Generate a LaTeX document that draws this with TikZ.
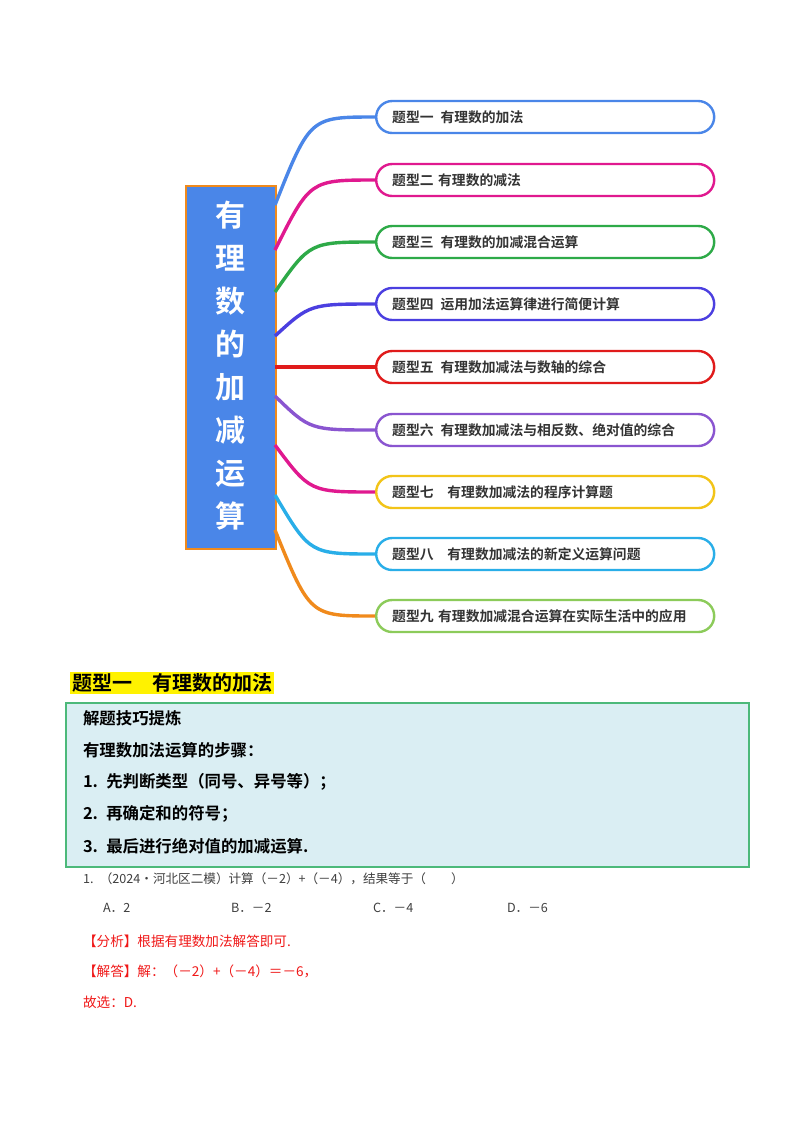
\documentclass[tikz,border=0pt]{standalone}
\usepackage{fontspec}
\setmainfont{Liberation Serif}
\newfontfamily\cjk{Noto Sans CJK SC}
\newfontfamily\cjkb{Noto Sans CJK SC Bold}
\definecolor{cblue}{HTML}{4A86E8}
\definecolor{cmag}{HTML}{E0198F}
\definecolor{cgreen}{HTML}{2EAA48}
\definecolor{cind}{HTML}{4B3FE0}
\definecolor{cred}{HTML}{E01B1B}
\definecolor{cpur}{HTML}{8A55D0}
\definecolor{cgold}{HTML}{F2C418}
\definecolor{csky}{HTML}{29AEE8}
\definecolor{corange}{HTML}{F08A1C}
\definecolor{clgreen}{HTML}{8CCB5A}
\definecolor{tipbg}{HTML}{DAEEF3}
\definecolor{tipbd}{HTML}{4CB97A}
\definecolor{ansred}{HTML}{F01818}
\begin{document}
\begin{tikzpicture}[x=0.5pt,y=-0.5pt,
  br/.style={draw=#1,line width=1.2pt,rounded corners=8pt,minimum width=169pt,minimum height=16pt,anchor=west,inner xsep=8pt,text width=153pt,align=left,font=\cjkb\fontsize{6.9}{7}\selectfont,text=black!80},
  cv/.style={draw=#1,line width=1.7pt},
  tip/.style={anchor=west,font=\cjkb\fontsize{8.2}{9}\selectfont},
  q/.style={anchor=west,font=\cjk\fontsize{6.3}{7}\selectfont,text=black!75},
  ans/.style={anchor=west,font=\cjk\fontsize{6.8}{7}\selectfont,text=ansred}]
\useasboundingbox (0,0) rectangle (800,1132);
\fill[white] (0,0) rectangle (800,1132);
\node[draw=corange,fill=cblue,line width=0.8pt,minimum width=45pt,minimum height=181.5pt,anchor=north west,inner sep=0pt] (c) at (185,185) {};
\node[text=white,font=\cjkb\fontsize{15}{21.5}\selectfont,align=center] (ct) at (230,366) {有\\理\\数\\的\\加\\减\\运\\算};
\foreach \i/\y/\t/\bc/\cc/\sy in {
 1/117/{题型一\enspace 有理数的加法}/cblue/cblue/205,
 2/180/{题型二 有理数的减法}/cmag/cmag/250,
 3/242/{题型三\enspace 有理数的加减混合运算}/cgreen/cgreen/292,
 4/304/{题型四\enspace 运用加法运算律进行简便计算}/cind/cind/336,
 5/367/{题型五\enspace 有理数加减法与数轴的综合}/cred/cred/367,
 6/430/{题型六\enspace 有理数加减法与相反数、绝对值的综合}/cpur/cpur/396,
 7/492/{题型七\enspace\enspace 有理数加减法的程序计算题}/cgold/cmag/445,
 8/554/{题型八\enspace\enspace 有理数加减法的新定义运算问题}/csky/csky/495,
 9/616/{题型九 有理数加减混合运算在实际生活中的应用}/clgreen/corange/530}{
  \node[br=\bc] (b\i) at (375,\y) {\t};
  \coordinate (s\i) at (275,\sy);
  \draw[cv=\cc] (s\i) .. controls (310,\y) .. (b\i.west);
}
\node[fill=yellow,anchor=west,inner sep=1pt,font=\cjkb\fontsize{10}{11}\selectfont] (h) at (70,683) {题型一\quad 有理数的加法};
\node[draw=tipbd,fill=tipbg,line width=0.8pt,anchor=north west,minimum width=341.5pt,minimum height=82pt,inner sep=0pt] (tipbox) at (65,702) {};
\node[tip] (t1) at (76,718) {解题技巧提炼};
\node[tip] (t2) at (76,750) {有理数加法运算的步骤：};
\node[tip] (t3) at (76,782) {1.\enspace 先判断类型（同号、异号等）；};
\node[tip] (t4) at (76,814) {2.\enspace 再确定和的符号；};
\node[tip] (t5) at (76,846) {3.\enspace 最后进行绝对值的加减运算.};
\node[q] (q1) at (76,879) {1.\enspace （2024•河北区二模）计算（－2）+（－4），结果等于（\qquad ）};
\node[q] (oa) at (96,908) {A．2};
\node[q] (ob) at (224,908) {B．－2};
\node[q] (oc) at (366,908) {C．－4};
\node[q] (od) at (500,908) {D．－6};
\node[ans] (a1) at (76,941) {【分析】根据有理数加法解答即可.};
\node[ans] (a2) at (76,971) {【解答】解：（－2）+（－4）＝－6，};
\node[ans] (a3) at (76,1002) {故选：\textit{D}.};
\end{tikzpicture}
\end{document}
